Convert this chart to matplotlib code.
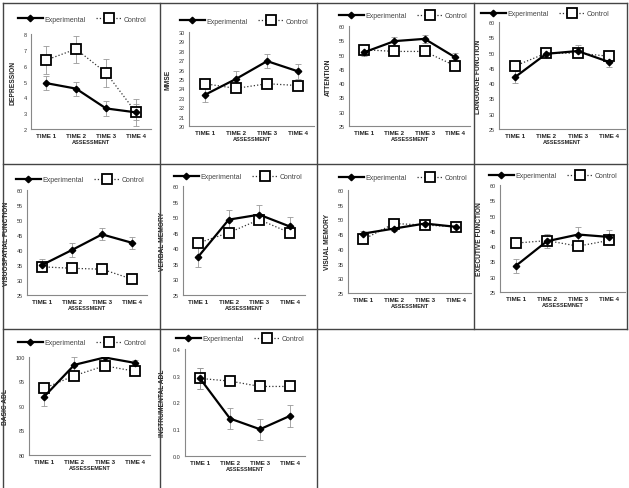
import numpy as np
from matplotlib import pyplot as plt
from matplotlib.lines import Line2D

plt.rcParams['font.family'] = ['Liberation Sans', 'DejaVu Sans']

times = ["TIME 1", "TIME 2", "TIME 3", "TIME 4"]

# panel data: label, experimental mean/err, control mean/err
dep_exp = [4.9, 4.55, 3.3, 3.05]
dep_exp_err = [0.45, 0.45, 0.45, 0.5]
dep_ctl = [6.35, 7.05, 5.55, 3.05]
dep_ctl_err = [0.9, 0.85, 0.9, 0.85]

mmse_exp = [23.3, 25.0, 26.9, 25.8]
mmse_exp_err = [0.7, 0.8, 0.75, 0.8]
mmse_ctl = [24.5, 24.0, 24.5, 24.3]
mmse_ctl_err = [0.3, 0.3, 0.3, 0.3]

att_exp = [50.8, 54.7, 55.5, 49.1]
att_exp_err = [1.3, 1.3, 1.3, 1.3]
att_ctl = [51.7, 51.1, 51.1, 46.1]
att_ctl_err = [0.8, 0.5, 0.5, 0.5]

lang_exp = [41.9, 49.6, 50.5, 46.9]
lang_exp_err = [2.0, 1.2, 2.0, 1.5]
lang_ctl = [45.6, 49.8, 49.8, 48.8]
lang_ctl_err = [0.5, 0.5, 0.5, 0.5]

vis_exp = [35.0, 40.0, 45.2, 42.4]
vis_exp_err = [2.0, 2.2, 2.0, 2.0]
vis_ctl = [34.4, 33.9, 33.6, 30.3]
vis_ctl_err = [0.4, 0.4, 0.4, 0.4]

verb_exp = [37.3, 49.2, 50.8, 47.0]
verb_exp_err = [3.2, 3.0, 3.0, 3.0]
verb_ctl = [41.7, 45.0, 49.2, 45.0]
verb_ctl_err = [1.0, 1.5, 1.0, 1.0]

vmem_exp = [45.2, 46.9, 48.6, 47.5]
vmem_exp_err = [1.0, 1.0, 0.8, 0.8]
vmem_ctl = [43.2, 48.6, 48.1, 47.5]
vmem_ctl_err = [0.8, 0.8, 0.8, 0.8]

exe_exp = [33.5, 41.6, 43.8, 43.0]
exe_exp_err = [2.3, 2.3, 2.3, 2.3]
exe_ctl = [41.0, 41.8, 40.0, 41.9]
exe_ctl_err = [0.5, 0.5, 0.5, 0.5]

badl_exp = [91.9, 98.4, 99.9, 98.8]
badl_exp_err = [1.8, 1.5, 0.5, 0.6]
badl_ctl = [93.6, 96.2, 98.2, 97.1]
badl_ctl_err = [0.6, 0.6, 0.6, 0.6]

iadl_exp = [0.29, 0.14, 0.10, 0.15]
iadl_exp_err = [0.04, 0.04, 0.04, 0.04]
iadl_ctl = [0.29, 0.28, 0.26, 0.26]
iadl_ctl_err = [0.04, 0.005, 0.005, 0.005]

W, H = 629, 489
fig = plt.figure(figsize=(W / 100, H / 100), dpi=100)


def px_axes(x0, x1, ytop, ybot):
    return fig.add_axes([x0 / W, 1 - ybot / H, (x1 - x0) / W, (ybot - ytop) / H])


def panel(box, legpos, ylabel, xlabel, exp, exp_err, ctl, ctl_err, ylim, step, fmt="%g"):
    ax = px_axes(*box)
    x = np.arange(4)
    ax.errorbar(x, exp, yerr=exp_err, fmt="none", ecolor="#999999", elinewidth=0.6, capsize=2, capthick=0.6)
    ax.errorbar(x, ctl, yerr=ctl_err, fmt="none", ecolor="#999999", elinewidth=0.6, capsize=2, capthick=0.6)
    ax.plot(x, ctl, linestyle=":", color="#333333", linewidth=0.9, marker="s", markersize=6.5,
            markerfacecolor="white", markeredgecolor="black", markeredgewidth=1.3, label="Control", zorder=3)
    ax.plot(x, exp, linestyle="-", color="black", linewidth=1.6, marker="D", markersize=3.3,
            markerfacecolor="black", label="Experimental", zorder=4)
    ax.set_xlim(-0.5, 3.5)
    ax.set_ylim(*ylim)
    ax.set_yticks(np.arange(ylim[0], ylim[1] + step / 2, step))
    ax.set_yticklabels([fmt % v for v in np.arange(ylim[0], ylim[1] + step / 2, step)], fontsize=4,
                       color="#333333")
    ax.set_xticks(x)
    ax.set_xticklabels(times, fontsize=4.5, fontweight="bold", color="#222222")
    ax.tick_params(length=0, pad=3)
    for s in ["top", "right"]:
        ax.spines[s].set_visible(False)
    for s in ["left", "bottom"]:
        ax.spines[s].set_color("#888888")
        ax.spines[s].set_linewidth(0.8)
    ax.set_ylabel(ylabel, fontsize=4.8, fontweight="bold", labelpad=5, color="#222222")
    ax.set_xlabel(xlabel, fontsize=4, fontweight="bold", labelpad=0.5, color="#222222")
    h, l = ax.get_legend_handles_labels()
    leg = fig.legend(h[::-1], l[::-1], loc="center", bbox_to_anchor=(legpos[0] / W, 1 - legpos[1] / H),
                     ncol=2, frameon=False, fontsize=5, handlelength=3.6, columnspacing=1.5, handletextpad=0.3)
    for t in leg.get_texts():
        t.set_color("#444444")
    return ax


panel((31, 151, 35, 130), (82, 20), "DEPRESSION", "ASSESSMENT",
      dep_exp, dep_exp_err, dep_ctl, dep_ctl_err, (2, 8), 1)
panel((189, 314, 33, 127), (244, 22), "MMSE", "ASSESSMENT",
      mmse_exp, mmse_exp_err, mmse_ctl, mmse_ctl_err, (20, 30), 1)
panel((349, 470, 27, 127), (403, 17), "ATTENTION", "ASSESSMENT",
      att_exp, att_exp_err, att_ctl, att_ctl_err, (25, 60), 5)
panel((499, 625, 23, 130), (545, 15), "LANGUAGE FUNCTION", "ASSESSMENT",
      lang_exp, lang_exp_err, lang_ctl, lang_ctl_err, (25, 60), 5)
panel((27, 147, 191, 296), (80, 181), "VISUOSPATIAL FUNCTION", "ASSESSMENT",
      vis_exp, vis_exp_err, vis_ctl, vis_ctl_err, (25, 60), 5)
panel((183, 305, 187, 296), (238, 178), "VERBAL MEMORY", "ASSESSMENT",
      verb_exp, verb_exp_err, verb_ctl, verb_ctl_err, (25, 60), 5)
panel((348, 471, 191, 294), (403, 179), "VISUAL MEMORY", "ASSESSMENT",
      vmem_exp, vmem_exp_err, vmem_ctl, vmem_ctl_err, (25, 60), 5)
panel((500, 625, 186, 293), (553, 177), "EXECUTIVE FUNCTION", "ASSESSEMNET",
      exe_exp, exe_exp_err, exe_ctl, exe_ctl_err, (25, 60), 5)
panel((29, 150, 358, 456), (82, 344), "BASIC ADL", "ASSESSEMENT",
      badl_exp, badl_exp_err, badl_ctl, badl_ctl_err, (80, 100), 5)
panel((185, 305, 350, 457), (240, 340), "INSTRUMENTAL ADL", "ASSESSMENT",
      iadl_exp, iadl_exp_err, iadl_ctl, iadl_ctl_err, (0, 0.4), 0.1, fmt="%.1f")

# table borders around the panels
segs = [((3, 4), (627, 4)), ((3, 165), (627, 165)), ((3, 330), (627, 330)),
        ((3, 4), (3, 489)), ((160, 4), (160, 489)), ((317, 4), (317, 489)),
        ((474, 4), (474, 330)), ((627, 4), (627, 330))]
for (xa, ya), (xb, yb) in segs:
    fig.add_artist(Line2D([xa / W, xb / W], [1 - ya / H, 1 - yb / H], color="#444444", linewidth=1.0))

fig.savefig("out.png", dpi=100)
